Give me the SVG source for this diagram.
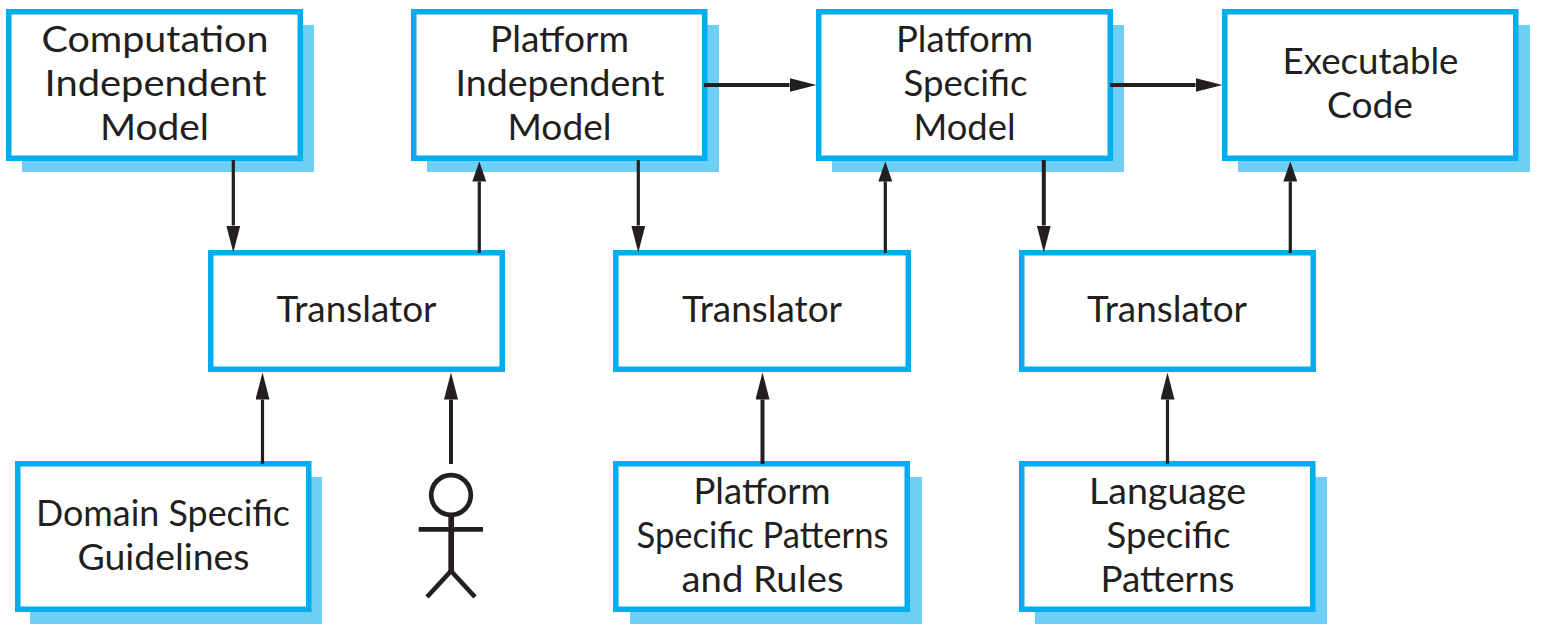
<svg xmlns="http://www.w3.org/2000/svg" width="1541" height="639" viewBox="0 0 1541 639">
<style>
.s{fill:#6dcff6}
.b{fill:#fff;stroke:#00aeef;stroke-width:5.5}
text{font-family:"Lato","Open Sans",sans-serif;font-size:36px;fill:#231f20;text-anchor:middle}
.c{stroke:#231f20;stroke-width:3.2;fill:none}
.w{stroke-width:4}
.a{fill:#231f20}
</style>
<defs>
<marker id="ah" markerUnits="userSpaceOnUse" markerWidth="28" markerHeight="14" refX="0" refY="7" orient="auto"><path d="M0 0L27 7L0 14Z" class="a"/></marker>
<marker id="as" markerUnits="userSpaceOnUse" markerWidth="21" markerHeight="14" refX="0" refY="7" orient="auto"><path d="M0 0L20 7L0 14Z" class="a"/></marker>
</defs>
<g id="cim"><rect class="s" x="22" y="25" width="292" height="147"/><rect class="b" x="8.750" y="11.750" width="291.500" height="146.500"/><text x="155" y="52" textLength="227" lengthAdjust="spacingAndGlyphs">Computation</text><text x="155.500" y="96" textLength="222" lengthAdjust="spacingAndGlyphs">Independent</text><text x="154.500" y="140" textLength="109" lengthAdjust="spacingAndGlyphs">Model</text></g>
<g id="pim"><rect class="s" x="427" y="25" width="292" height="147"/><rect class="b" x="413.750" y="11.750" width="291" height="146.500"/><text x="559.500" y="52" textLength="139" lengthAdjust="spacingAndGlyphs">Platform</text><text x="560" y="96" textLength="209" lengthAdjust="spacingAndGlyphs">Independent</text><text x="559.500" y="140" textLength="104" lengthAdjust="spacingAndGlyphs">Model</text></g>
<g id="psm"><rect class="s" x="832" y="25" width="292" height="147"/><rect class="b" x="818.750" y="11.750" width="291.500" height="146.500"/><text x="964.500" y="52" textLength="137" lengthAdjust="spacingAndGlyphs">Platform</text><text x="965.500" y="96" textLength="124" lengthAdjust="spacingAndGlyphs">Specific</text><text x="964.500" y="140" textLength="102" lengthAdjust="spacingAndGlyphs">Model</text></g>
<g id="code"><rect class="s" x="1238" y="25" width="292" height="147"/><rect class="b" x="1224.750" y="11.750" width="291" height="146.500"/><text x="1370.500" y="74" textLength="176" lengthAdjust="spacingAndGlyphs">Executable</text><text x="1370" y="118" textLength="86" lengthAdjust="spacingAndGlyphs">Code</text></g>
<g id="t1"><rect class="b" x="210.750" y="252.750" width="291.500" height="116.500"/><text x="356.500" y="322" textLength="160" lengthAdjust="spacingAndGlyphs">Translator</text></g>
<g id="t2"><rect class="b" x="615.750" y="252.750" width="292.500" height="116.500"/><text x="762" y="322" textLength="160" lengthAdjust="spacingAndGlyphs">Translator</text></g>
<g id="t3"><rect class="b" x="1021.750" y="252.750" width="291.500" height="116.500"/><text x="1167" y="322" textLength="160" lengthAdjust="spacingAndGlyphs">Translator</text></g>
<g id="dsg"><rect class="s" x="30" y="477" width="292" height="147"/><rect class="b" x="17.750" y="463.750" width="291" height="145.500"/><text x="163" y="526" textLength="254" lengthAdjust="spacingAndGlyphs">Domain Specific</text><text x="163.500" y="570" textLength="172" lengthAdjust="spacingAndGlyphs">Guidelines</text></g>
<g id="pspr"><rect class="s" x="630" y="477" width="292" height="147"/><rect class="b" x="615.750" y="463.750" width="291.500" height="145.500"/><text x="762" y="504" textLength="137" lengthAdjust="spacingAndGlyphs">Platform</text><text x="762.500" y="548" textLength="252" lengthAdjust="spacingAndGlyphs">Specific Patterns</text><text x="762.500" y="592" textLength="162" lengthAdjust="spacingAndGlyphs">and Rules</text></g>
<g id="lsp"><rect class="s" x="1035" y="477" width="292" height="147"/><rect class="b" x="1021.750" y="463.750" width="291" height="145.500"/><text x="1167.500" y="504" textLength="157" lengthAdjust="spacingAndGlyphs">Language</text><text x="1168.500" y="548" textLength="124" lengthAdjust="spacingAndGlyphs">Specific</text><text x="1167.500" y="592" textLength="134" lengthAdjust="spacingAndGlyphs">Patterns</text></g>
<g id="actor" fill="none" stroke="#231f20" stroke-width="4.700"><circle cx="451" cy="495" r="19.800"/><path d="M418.700 529.300H483M451 571L427 597M451 571L475 597"/><path d="M451.200 515V571" stroke-width="5.700"/></g>
<g id="connectors">
<path class="c" d="M233.300 160V225.500" marker-end="url(#ah)"/>
<path class="c" d="M479.300 253V181.500" marker-end="url(#as)"/>
<path class="c" d="M638.300 160V225.500" marker-end="url(#ah)"/>
<path class="c" d="M885.300 253V181.500" marker-end="url(#as)"/>
<path class="c w" d="M1043.800 160V225.500" marker-end="url(#ah)"/>
<path class="c" d="M1290.300 253V181.500" marker-end="url(#as)"/>
<path class="c" d="M262.500 464V399.500" marker-end="url(#ah)"/>
<path class="c w" d="M451 464V399.500" marker-end="url(#ah)"/>
<path class="c w" d="M762.500 464V399.500" marker-end="url(#ah)"/>
<path class="c" d="M1167.500 464V399.500" marker-end="url(#ah)"/>
<path class="c w" d="M704 85H789.500" marker-end="url(#ah)"/>
<path class="c w" d="M1110 85H1195.500" marker-end="url(#ah)"/>
</g>
</svg>
